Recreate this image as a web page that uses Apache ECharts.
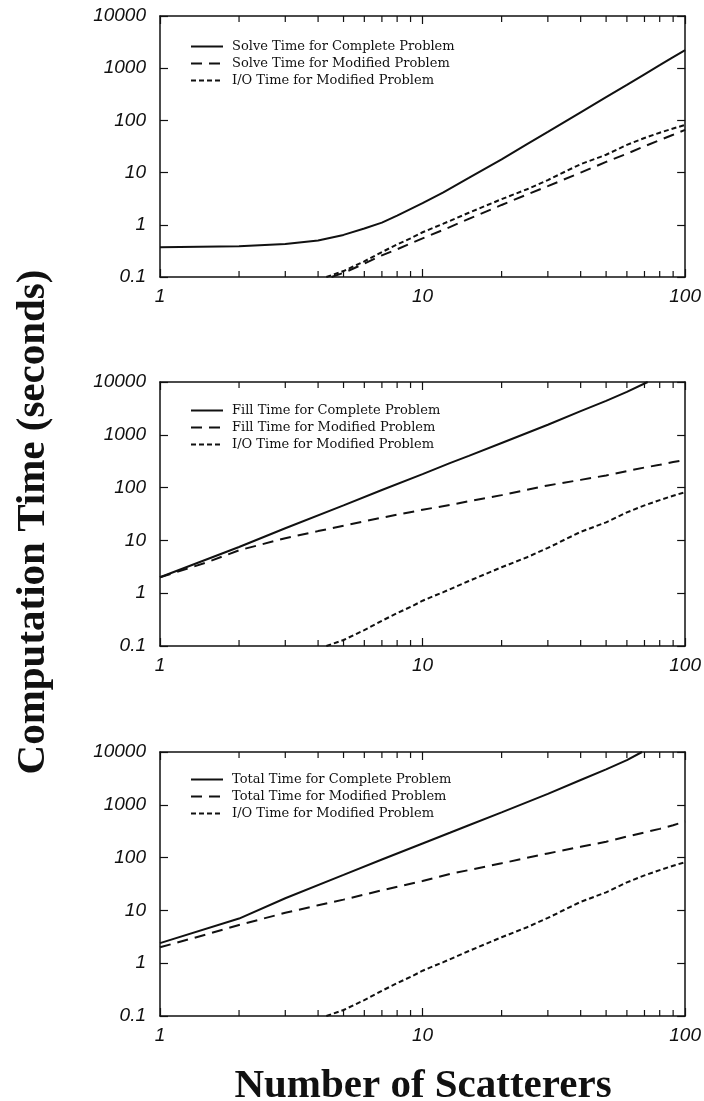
<!DOCTYPE html>
<html>
<head>
<meta charset="utf-8">
<script src="https://cdn.jsdelivr.net/npm/echarts@6/dist/echarts.min.js"></script>
<style>html,body{margin:0;background:#fff}#main{width:704px;height:1101px}</style>
</head>
<body>
<div id="main"></div>
<script>
// x = number of scatterers, y = seconds (log-log)
var nSolveComplete = [1, 2, 3, 4, 5, 6, 7, 8, 10, 12, 15, 20, 25, 30, 40, 50, 60, 70, 80, 90, 100];
var solveComplete = [0.37, 0.39, 0.43, 0.5, 0.64, 0.85, 1.1, 1.5, 2.6, 4.2, 7.9, 18, 35, 60, 143, 280, 480, 765, 1140, 1630, 2230];

var nSolveMod = [4.5, 5, 6, 7, 8, 10, 12, 15, 20, 25, 30, 40, 50, 60, 70, 80, 90, 100];
var solveMod = [0.1, 0.12, 0.18, 0.26, 0.34, 0.55, 0.8, 1.3, 2.4, 3.8, 5.5, 10, 16, 23, 32, 42, 53, 66];

var nIO = [4.3, 5, 6, 7, 8, 9, 10, 12, 15, 20, 25, 30, 35, 40, 50, 60, 70, 80, 90, 100];
var ioMod = [0.1, 0.13, 0.2, 0.3, 0.42, 0.55, 0.72, 1.05, 1.7, 3.1, 4.8, 7.2, 10.5, 14.5, 22, 34, 46, 58, 70, 82];

var nFillComplete = [1, 2, 3, 5, 7, 10, 12.7, 15, 20, 30, 40, 50, 60, 72];
var fillComplete = [2, 7.5, 17, 46, 90, 180, 290, 400, 700, 1550, 2800, 4400, 6500, 10000];

var nFillMod = [1, 1.5, 2, 3, 4, 5, 7, 10, 12.7, 15, 20, 30, 40, 50, 60, 70, 80, 90, 100];
var fillMod = [2, 3.8, 6.5, 11, 15, 19, 27, 38, 47, 55, 72, 110, 140, 170, 205, 240, 270, 305, 335];

var nTotalComplete = [1, 2, 3, 5, 7, 10, 12.7, 15, 20, 30, 40, 50, 60, 68.5];
var totalComplete = [2.4, 7, 17, 47, 92, 185, 295, 410, 720, 1610, 2950, 4700, 7000, 10000];

var nTotalMod = [1, 1.5, 2, 3, 4, 5, 7, 10, 12.7, 15, 20, 30, 40, 50, 60, 70, 80, 90, 100];
var totalMod = [2, 3.5, 5.3, 9, 12.5, 16, 24, 36, 49, 58, 78, 120, 160, 200, 250, 300, 350, 410, 483];

var xMinorTicks = [2, 3, 4, 5, 6, 7, 8, 9, 20, 30, 40, 50, 60, 70, 80, 90];
var xMin = 1, xMax = 100, yMin = 0.1, yMax = 10000;

var panels = [
  {top: 16, height: 261, legendTop: 35, names: ['Solve Time for Complete Problem', 'Solve Time for Modified Problem', 'I/O Time for Modified Problem'],
   xs: [nSolveComplete, nSolveMod, nIO], ys: [solveComplete, solveMod, ioMod]},
  {top: 382, height: 264, legendTop: 399, names: ['Fill Time for Complete Problem', 'Fill Time for Modified Problem', 'I/O Time for Modified Problem'],
   xs: [nFillComplete, nFillMod, nIO], ys: [fillComplete, fillMod, ioMod]},
  {top: 752, height: 264, legendTop: 768, names: ['Total Time for Complete Problem', 'Total Time for Modified Problem', 'I/O Time for Modified Problem'],
   xs: [nTotalComplete, nTotalMod, nIO], ys: [totalComplete, totalMod, ioMod]}
];
var dashes = ['solid', [11, 7], [5, 3]];

function zip(a, b) {
  return a.map(function (v, i) { return [v, b[i]]; });
}

var ink = '#111';
var tickFont = {fontFamily: 'Liberation Sans', fontStyle: 'italic', fontSize: 19, color: ink};

var grid = [], xAxis = [], yAxis = [], series = [], legend = [];

panels.forEach(function (p, g) {
  grid.push({left: 160, top: p.top, width: 526, height: p.height});
  var axisBase = {
    type: 'log', logBase: 10, gridIndex: g,
    axisLine: {show: true, lineStyle: {color: ink, width: 1.5}},
    splitLine: {show: false},
    axisTick: {show: true, inside: true, length: 8, lineStyle: {color: ink, width: 1.2}}
  };
  xAxis.push(Object.assign({}, axisBase, {min: xMin, max: xMax, position: 'bottom',
    axisLabel: Object.assign({margin: 10, formatter: function (v) { return String(v); }}, tickFont)}));
  xAxis.push(Object.assign({}, axisBase, {min: xMin, max: xMax, position: 'top', axisLabel: {show: false}}));
  yAxis.push(Object.assign({}, axisBase, {min: yMin, max: yMax, interval: 1, position: 'left',
    axisLabel: Object.assign({margin: 14, formatter: function (v) { return String(v); }}, tickFont)}));
  yAxis.push(Object.assign({}, axisBase, {min: yMin, max: yMax, interval: 1, position: 'right', axisLabel: {show: false}}));

  p.names.forEach(function (name, k) {
    series.push({
      name: name, type: 'line', xAxisIndex: 2 * g, yAxisIndex: 2 * g,
      data: zip(p.xs[k], p.ys[k]), symbol: 'none', showSymbol: false, silent: true,
      color: ink, itemStyle: {color: ink},
      lineStyle: {color: ink, width: 2, type: dashes[k]}
    });
  });

  series.push({
    type: 'custom', xAxisIndex: 2 * g, yAxisIndex: 2 * g, silent: true, clip: false,
    data: xMinorTicks.map(function (v) { return [v, yMin]; }),
    renderItem: function (params, api) {
      var b = api.coord([api.value(0), yMin]);
      var t = api.coord([api.value(0), yMax]);
      return {type: 'group', children: [
        {type: 'line', shape: {x1: b[0], y1: b[1], x2: b[0], y2: b[1] - 6}, style: {stroke: ink, lineWidth: 1.2}},
        {type: 'line', shape: {x1: t[0], y1: t[1], x2: t[0], y2: t[1] + 6}, style: {stroke: ink, lineWidth: 1.2}}
      ]};
    }
  });

  legend.push({
    data: p.names, orient: 'vertical', left: 185, top: p.legendTop,
    itemWidth: 32, itemHeight: 14, itemGap: 4, selectedMode: false,
    itemStyle: {opacity: 0},
    textStyle: {fontFamily: 'DejaVu Serif', fontSize: 13, color: ink, padding: [0, 0, 0, 4]}
  });
});

var chart = echarts.init(document.getElementById('main'), null, {renderer: 'canvas'});
chart.setOption({
  backgroundColor: '#fff',
  animation: false,
  grid: grid, xAxis: xAxis, yAxis: yAxis, series: series, legend: legend,
  graphic: [
    {type: 'text', x: 33, y: 522, rotation: Math.PI / 2,
     style: {text: 'Computation Time (seconds)', fontFamily: 'Liberation Serif', fontWeight: 'bold', fontSize: 41,
             fill: ink, align: 'center', verticalAlign: 'middle'}},
    {type: 'text', x: 423, y: 1086,
     style: {text: 'Number of Scatterers', fontFamily: 'Liberation Serif', fontWeight: 'bold', fontSize: 41,
             fill: ink, align: 'center', verticalAlign: 'middle'}}
  ]
});
</script>
</body>
</html>
